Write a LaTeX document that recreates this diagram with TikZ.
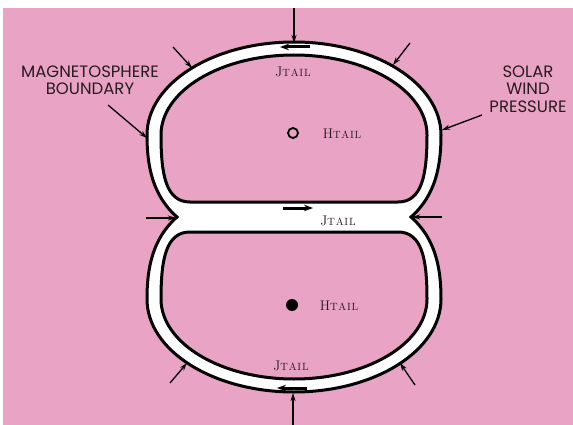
\documentclass[tikz,border=0pt]{standalone}
\usepackage{fontspec}
\newfontfamily\lblfont{Poppins}
\usetikzlibrary{arrows.meta}
\definecolor{bgpink}{RGB}{233,163,196}
\definecolor{ink}{RGB}{40,28,32}
\newcommand\subtail{{\fontsize{10.5}{11}\selectfont T\kern0.8pt A\kern0.8pt I\kern0.8pt L}}
\begin{document}
\begin{tikzpicture}[x=1pt,y=-1pt,
  boundary/.style={draw=black,line width=3pt,line join=miter},
  pushar/.style={draw=black,line width=1.3pt,-{Stealth[length=8pt,width=5pt]}},
  curar/.style={draw=black,line width=3pt,-{Stealth[length=9pt,width=6.5pt]}},
  biglbl/.style={font=\lblfont\fontsize{16.5}{17.5}\selectfont,text=ink,align=center,inner sep=0pt},
  jlbl/.style={font=\fontsize{14}{14}\selectfont,text=ink,inner sep=0pt}]
\useasboundingbox (0,0) rectangle (573,425);
\fill[white] (0,0) rectangle (573,425);
\fill[bgpink] (3,8) rectangle (573,425);
% outer magnetosphere boundary
\path[boundary,fill=white] (177,217)
  .. controls (152,195) and (147,165) .. (147,135)
  .. controls (147,83.4) and (213,42) .. (294,42)
  .. controls (375,42) and (441,83.4) .. (441,135)
  .. controls (441,165) and (436,195) .. (411,217)
  .. controls (436,239) and (441,269) .. (441,299)
  .. controls (441,350.6) and (375,392) .. (294,392)
  .. controls (213,392) and (147,350.6) .. (147,299)
  .. controls (147,269) and (152,239) .. (177,217) -- cycle;
% upper inner lobe
\path[boundary,fill=bgpink] (190,202)
  .. controls (166,202) and (161,175) .. (161,135)
  .. controls (161,90.8) and (220.6,55) .. (294,55)
  .. controls (367.4,55) and (427,90.8) .. (427,135)
  .. controls (427,175) and (422,202) .. (398,202) -- cycle;
% lower inner lobe
\path[boundary,fill=bgpink] (190,232)
  .. controls (166,232) and (161,259) .. (161,299)
  .. controls (161,343.2) and (220.6,379) .. (294,379)
  .. controls (367.4,379) and (427,343.2) .. (427,299)
  .. controls (427,259) and (422,232) .. (398,232) -- cycle;
% field symbols
\node[circle,draw=black,line width=1.8pt,minimum size=10pt,inner sep=0pt] (hopen) at (293,133) {};
\node[circle,fill=black,minimum size=12pt,inner sep=0pt] (hfull) at (292,305) {};
% labels
\node[biglbl] (mlabel) at (90,80) {MAGNETOSPHERE\\BOUNDARY};
\node[biglbl] (slabel) at (528,89) {SOLAR\\WIND\\PRESSURE};
\node[jlbl] (jtop) at (293,72) {J\subtail};
\node[jlbl] (jmid) at (338,221) {J\subtail};
\node[jlbl] (jbot) at (291,366) {J\subtail};
\node[jlbl] (htop) at (342,134) {H\subtail};
\node[jlbl] (hbot) at (339,306) {H\subtail};
% current arrows
\coordinate (ct0) at (310,47); \coordinate (ct1) at (280,47);
\coordinate (cm0) at (283,208); \coordinate (cm1) at (313,208);
\coordinate (cb0) at (307,388); \coordinate (cb1) at (277,388);
\draw[curar] (ct0) -- (ct1);
\draw[curar] (cm0) -- (cm1);
\draw[curar] (cb0) -- (cb1);
% pressure arrows
\coordinate (ptop0) at (294,8);   \coordinate (ptop1) at (294,43);
\coordinate (pbot0) at (293,425); \coordinate (pbot1) at (293,393);
\coordinate (ptl0) at (173,47);   \coordinate (ptl1) at (192,68);
\coordinate (ptr0) at (410,43);   \coordinate (ptr1) at (393,65);
\coordinate (pm0) at (108,105);   \coordinate (pm1) at (147,138);
\coordinate (ps0) at (482,115);   \coordinate (ps1) at (442,130);
\coordinate (pnl0) at (146,218);  \coordinate (pnl1) at (176,218);
\coordinate (pnr0) at (442,217);  \coordinate (pnr1) at (412,217);
\coordinate (pbl0) at (170,383);  \coordinate (pbl1) at (187,363);
\coordinate (pbr0) at (415,385);  \coordinate (pbr1) at (400,363);
\foreach \a in {ptop,pbot,ptl,ptr,pm,ps,pnl,pnr,pbl,pbr}
  \draw[pushar] (\a0) -- (\a1);
\end{tikzpicture}
\end{document}
